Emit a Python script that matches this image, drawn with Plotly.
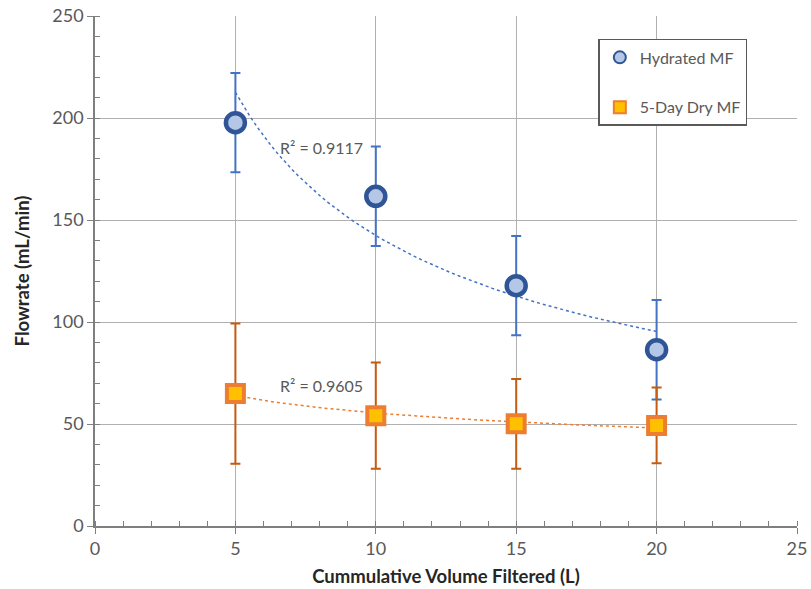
import numpy as np
import plotly.graph_objects as go

volume = [5, 10, 15, 20]
hydrated = [197.7, 161.6, 117.8, 86.4]
hydrated_err = [24.3, 24.4, 24.3, 24.4]
dry = [64.9, 54.1, 50.1, 49.3]
dry_err = [34.4, 26.0, 22.0, 18.6]
r2_labels = ["R² = 0.9117", "R² = 0.9605"]

FONT = "Lato"
GRAY = "#595959"


def power_fit(x, y):
    b, lna = np.polyfit(np.log(x), np.log(y), 1)
    xs = np.linspace(min(x), max(x), 60)
    return xs, np.exp(lna) * xs ** b


fig = go.Figure()

xs, ys = power_fit(volume, hydrated)
fig.add_trace(go.Scatter(x=xs, y=ys, mode="lines", showlegend=False, hoverinfo="skip",
                         line=dict(color="#4472c4", width=1.5, dash="dot")))
xs, ys = power_fit(volume, dry)
fig.add_trace(go.Scatter(x=xs, y=ys, mode="lines", showlegend=False, hoverinfo="skip",
                         line=dict(color="#ed7d31", width=1.5, dash="dot")))

fig.add_trace(go.Scatter(
    x=volume, y=hydrated, mode="markers", name="Hydrated MF", legendgroup="a",
    error_y=dict(type="data", array=hydrated_err, color="#4472c4", thickness=2, width=5),
    marker=dict(symbol="circle", size=19, color="#b4c7e7",
                line=dict(color="#2f5597", width=4.5))))
fig.add_trace(go.Scatter(
    x=volume, y=dry, mode="markers", name="5-Day Dry MF", legendgroup="b",
    error_y=dict(type="data", array=dry_err, color="#c55a11", thickness=2, width=5),
    marker=dict(symbol="square", size=17, color="#ffc000",
                line=dict(color="#ed7d31", width=4))))

fig.add_annotation(x=8.08, y=185.4, text=r2_labels[0], showarrow=False,
                   font=dict(family=FONT, size=16, color=GRAY))
fig.add_annotation(x=8.08, y=68.8, text=r2_labels[1], showarrow=False,
                   font=dict(family=FONT, size=16, color=GRAY))

axis_common = dict(showgrid=True, gridcolor="#b0b0b0", gridwidth=1,
                   showline=True, linecolor="#7f7f7f", linewidth=1.5,
                   ticks="outside", ticklen=6, tickcolor="#7f7f7f",
                   zeroline=False, automargin=False,
                   tickfont=dict(family=FONT, size=18, color=GRAY))

fig.update_xaxes(range=[0, 25], dtick=5, tick0=0,
                 minor=dict(dtick=1, ticks="inside", ticklen=5, tickcolor="#7f7f7f", showgrid=False),
                 title=dict(text="<b>Cummulative Volume Filtered (L)</b>",
                            font=dict(family=FONT, size=18.5, color="#262626"), standoff=12),
                 **axis_common)
fig.update_yaxes(range=[0, 250], dtick=50, tick0=0,
                 minor=dict(dtick=10, ticks="inside", ticklen=5, tickcolor="#7f7f7f", showgrid=False),
                 title=dict(text="<b>Flowrate (mL/min)</b>",
                            font=dict(family=FONT, size=18.5, color="#262626"), standoff=18),
                 **axis_common)

fig.update_layout(
    width=811, height=589,
    margin=dict(l=95, r=14, t=16, b=63),
    paper_bgcolor="white", plot_bgcolor="white",
    font=dict(family=FONT, color=GRAY),
    legend=dict(x=0.717, y=0.955, xanchor="left", yanchor="top",
                bordercolor="#595959", borderwidth=1.5, bgcolor="white",
                font=dict(family=FONT, size=16, color=GRAY),
                tracegroupgap=26, itemsizing="constant"),
)

fig.write_html("out.html", config={"displayModeBar": False},
               post_script="document.body.style.margin='0';")
